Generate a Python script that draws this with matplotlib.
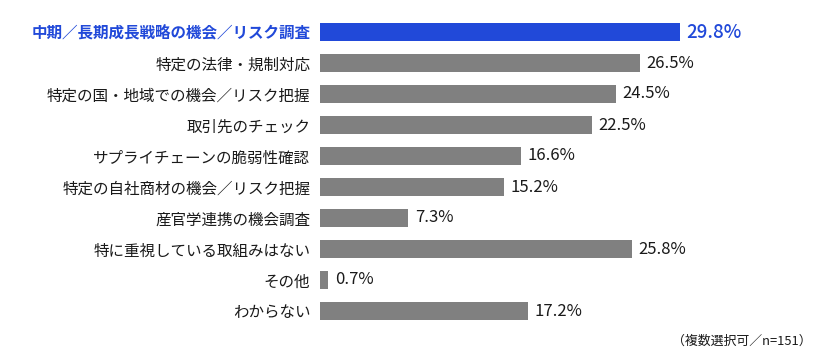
import matplotlib
matplotlib.use("Agg")
import matplotlib.pyplot as plt

plt.rcParams['font.family'] = ['Noto Sans CJK JP', 'DejaVu Sans']

categories = [
    "中期／長期成長戦略の機会／リスク調査",
    "特定の法律・規制対応",
    "特定の国・地域での機会／リスク把握",
    "取引先のチェック",
    "サプライチェーンの脆弱性確認",
    "特定の自社商材の機会／リスク把握",
    "産官学連携の機会調査",
    "特に重視している取組みはない",
    "その他",
    "わからない",
]
values = [29.8, 26.5, 24.5, 22.5, 16.6, 15.2, 7.3, 25.8, 0.7, 17.2]
note = "（複数選択可／n=151）"

blue = "#2149d9"
gray = "#808080"
colors = [blue] + [gray] * (len(values) - 1)

fig = plt.figure(figsize=(8.2, 3.6), dpi=100)
ax = fig.add_axes([320 / 820, 1 - 326.5 / 360, 480 / 820, 310 / 360])
y = list(range(len(values)))
ax.barh(y, values, height=0.56, color=colors)
ax.set_ylim(len(values) - 0.5, -0.5)
ax.set_xlim(0, 480 / 12.08)
for s in ax.spines.values():
    s.set_visible(False)
ax.set_xticks([])
ax.set_yticks(y)
ax.set_yticklabels(categories, fontsize=11.2)
ax.tick_params(axis='y', length=0, pad=7)
for i, lab in enumerate(ax.get_yticklabels()):
    if i == 0:
        lab.set_color(blue)
        lab.set_fontweight('bold')
    else:
        lab.set_color('#1a1a1a')
for i, v in enumerate(values):
    if i == 0:
        ax.text(v + 0.55, i, f"{v:.1f}%", va='center', ha='left',
                fontsize=13.5, color=blue, fontweight='medium')
    else:
        ax.text(v + 0.55, i, f"{v:.1f}%", va='center', ha='left',
                fontsize=12, color='#1a1a1a')
fig.text(812 / 820, 1 - 341 / 360, note, ha='right', va='center',
         fontsize=9.3, color='#1a1a1a')
fig.savefig("out.png", dpi=100, facecolor='white')
